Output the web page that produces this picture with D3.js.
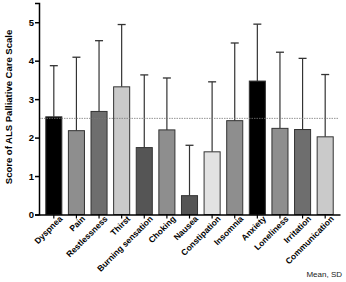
<!DOCTYPE html>
<html>
<head>
<meta charset="utf-8">
<script src="https://cdn.jsdelivr.net/npm/d3@7"></script>
<style>
  body { margin: 0; background: #fff; }
  text { font-family: "Liberation Sans", Arial, sans-serif; }
</style>
</head>
<body>
<div id="chart"></div>
<script>
// data
var symptoms = ["Dyspnea", "Pain", "Restlessness", "Thirst", "Burning sensation", "Choking",
  "Nausea", "Constipation", "Insomnia", "Anxiety", "Loneliness", "Irritation", "Communication"];
var means = [2.54, 2.18, 2.68, 3.32, 1.74, 2.20, 0.49, 1.63, 2.44, 3.47, 2.24, 2.21, 2.02];
var sdTops = [3.87, 4.09, 4.52, 4.94, 3.63, 3.55, 1.80, 3.45, 4.46, 4.95, 4.22, 4.06, 3.64];
var fills = ["#000000", "#8e8e8e", "#6e6e6e", "#cacaca", "#555555", "#8e8e8e",
  "#555555", "#e2e2e2", "#8e8e8e", "#000000", "#8e8e8e", "#6e6e6e", "#cacaca"];
var yTicks = [0, 1, 2, 3, 4, 5];
var refLine = 2.5;

var margin = {top: 3, right: 4, bottom: 67, left: 39},
    width = 346 - margin.left - margin.right,
    height = 282 - margin.top - margin.bottom;

var svg = d3.select("#chart").append("svg")
    .attr("width", 346)
    .attr("height", 282)
  .append("g")
    .attr("transform", "translate(" + margin.left + "," + margin.top + ")");

var x = d3.scaleBand().domain(symptoms).range([0, 301]).paddingInner(0.29).paddingOuter(0.3);
var y = d3.scaleLinear().domain([0, 5.5]).range([height - 0.5, 0]);

// error bars (drawn first so bars sit on top)
svg.selectAll(".err")
    .data(symptoms)
  .enter().append("line")
    .attr("x1", function(d) { return x(d) + x.bandwidth() / 2; })
    .attr("x2", function(d) { return x(d) + x.bandwidth() / 2; })
    .attr("y1", function(d, i) { return y(means[i]); })
    .attr("y2", function(d, i) { return y(sdTops[i]); })
    .attr("stroke", "#333")
    .attr("stroke-width", 1.2);

svg.selectAll(".cap")
    .data(symptoms)
  .enter().append("line")
    .attr("x1", function(d) { return x(d) + x.bandwidth() / 2 - 4; })
    .attr("x2", function(d) { return x(d) + x.bandwidth() / 2 + 4; })
    .attr("y1", function(d, i) { return y(sdTops[i]); })
    .attr("y2", function(d, i) { return y(sdTops[i]); })
    .attr("stroke", "#333")
    .attr("stroke-width", 1.3);

// bars
svg.selectAll(".bar")
    .data(symptoms)
  .enter().append("rect")
    .attr("x", function(d) { return x(d); })
    .attr("width", x.bandwidth())
    .attr("y", function(d, i) { return y(means[i]); })
    .attr("height", function(d, i) { return y(0) - y(means[i]); })
    .attr("fill", function(d, i) { return fills[i]; })
    .attr("stroke", "#333")
    .attr("stroke-width", 1);

// dotted reference line
svg.append("line")
    .attr("x1", 0)
    .attr("x2", 300)
    .attr("y1", y(refLine))
    .attr("y2", y(refLine))
    .attr("stroke", "#777")
    .attr("stroke-width", 0.8)
    .attr("stroke-dasharray", "1.5,1");

// y axis
var yAxis = svg.append("g")
    .call(d3.axisLeft(y).tickValues(yTicks).tickSize(4).tickFormat(d3.format("d")));
yAxis.select(".domain").attr("stroke", "#000").attr("stroke-width", 1.5);
yAxis.selectAll(".tick line").attr("stroke", "#000").attr("stroke-width", 1.5);
yAxis.selectAll(".tick text")
    .attr("font-size", "9.5px")
    .attr("font-weight", "bold")
    .attr("fill", "#000")
    .attr("x", -5);

// x axis
var xAxis = svg.append("g")
    .attr("transform", "translate(0," + (height - 0.5) + ")")
    .call(d3.axisBottom(x).tickSize(4).tickSizeOuter(0));
xAxis.select(".domain").attr("stroke", "#000").attr("stroke-width", 1.5);
xAxis.selectAll(".tick line").attr("stroke", "#000").attr("stroke-width", 1.2);
xAxis.selectAll(".tick text")
    .attr("font-size", "8.5px")
    .attr("font-weight", "bold")
    .attr("fill", "#000")
    .attr("text-anchor", "end")
    .attr("x", 3)
    .attr("y", 7)
    .attr("dy", "0.35em")
    .attr("transform", "rotate(-45)");

// y axis title
svg.append("text")
    .attr("transform", "rotate(-90)")
    .attr("x", -height / 2 + 2)
    .attr("y", -27)
    .attr("text-anchor", "middle")
    .attr("font-size", "9.5px")
    .attr("font-weight", "bold")
    .attr("fill", "#000")
    .text("Score of ALS Palliative Care Scale");

// note
svg.append("text")
    .attr("x", 303)
    .attr("y", height + 62)
    .attr("text-anchor", "end")
    .attr("font-size", "8px")
    .attr("fill", "#222")
    .text("Mean, SD");
</script>
</body>
</html>
